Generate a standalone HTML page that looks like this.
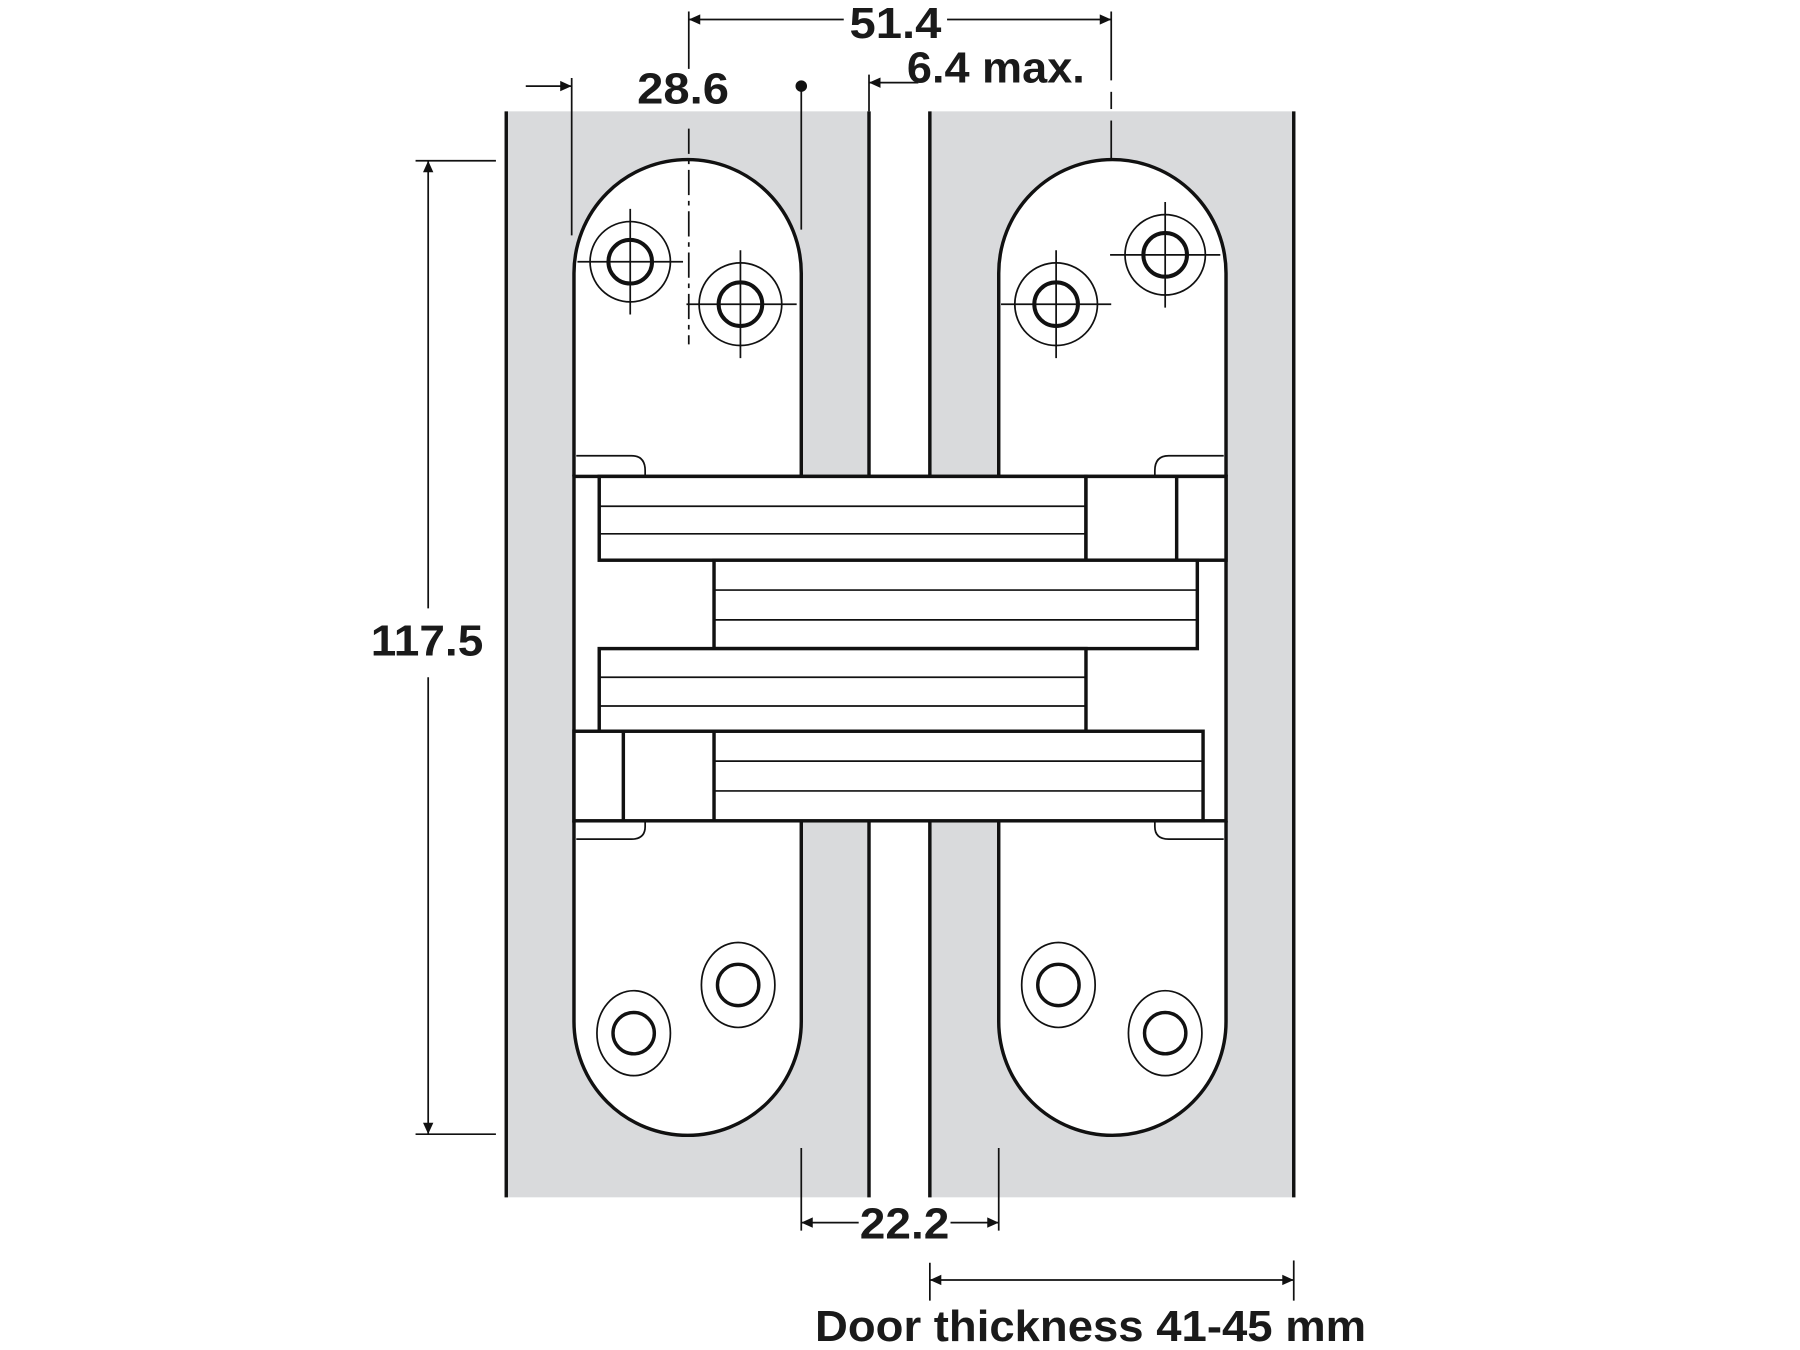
<!DOCTYPE html>
<html><head><meta charset="utf-8"><style>
html,body{margin:0;padding:0;background:#fff;width:1800px;height:1350px;overflow:hidden}
svg{display:block}
text{font-family:"Liberation Sans",Arial,sans-serif;font-weight:bold;fill:#1a1a1a}
</style></head><body>
<svg width="1800" height="1350" viewBox="0 0 1568 1176" xmlns="http://www.w3.org/2000/svg">
<defs>
<marker id="ar" viewBox="0 0 10 10" refX="10" refY="5" markerWidth="22" markerHeight="10" markerUnits="userSpaceOnUse" orient="auto-start-reverse"><path d="M0,0.5 L10,5 L0,9.5 z" fill="#111"/></marker>
</defs>
<rect x="440" y="97" width="317" height="946" fill="#d9dadc"/>
<rect x="810" y="97" width="317" height="946" fill="#d9dadc"/>
<g stroke="#111" stroke-width="3" fill="none">
<line x1="441" y1="97" x2="441" y2="1043"/>
<line x1="757" y1="97" x2="757" y2="1043"/>
<line x1="810" y1="97" x2="810" y2="1043"/>
<line x1="1127" y1="97" x2="1127" y2="1043"/>
</g>
<g stroke="#111" stroke-width="3" fill="#fff">
<path d="M500,415 L500,238 A99,99 0 0 1 698,238 L698,415"/>
<path d="M870,415 L870,238 A99,99 0 0 1 1068,238 L1068,415"/>
<path d="M500,715 L500,890 A99,99 0 0 0 698,890 L698,715"/>
<path d="M870,715 L870,890 A99,99 0 0 0 1068,890 L1068,715"/>
</g>
<g stroke="#111" stroke-width="1.5" fill="none">
<path d="M502,397 L550,397 Q562,397 562,410 L562,415"/>
<path d="M1066,397 L1018,397 Q1006,397 1006,410 L1006,415"/>
<path d="M502,731 L550,731 Q562,731 562,720 L562,715"/>
<path d="M1066,731 L1018,731 Q1006,731 1006,720 L1006,715"/>
</g>
<g stroke="#111" fill="#fff">
<rect x="500" y="415" width="568" height="300" stroke-width="3"/>
<rect x="522" y="415" width="424" height="73" stroke-width="3"/>
<rect x="946" y="415" width="122" height="73" stroke-width="3"/>
<line x1="1025" y1="415" x2="1025" y2="488" stroke-width="3"/>
<rect x="622" y="488" width="421" height="77" stroke-width="3"/>
<rect x="522" y="565" width="424" height="72" stroke-width="3"/>
<rect x="500" y="637" width="548" height="78" stroke-width="3"/>
<line x1="543" y1="637" x2="543" y2="715" stroke-width="3"/>
<line x1="622" y1="637" x2="622" y2="715" stroke-width="3"/>
</g>
<g stroke="#111" stroke-width="1.5">
<line x1="522" y1="441" x2="946" y2="441"/><line x1="522" y1="465" x2="946" y2="465"/>
<line x1="622" y1="514" x2="1043" y2="514"/><line x1="622" y1="540" x2="1043" y2="540"/>
<line x1="522" y1="590" x2="946" y2="590"/><line x1="522" y1="615" x2="946" y2="615"/>
<line x1="622" y1="663" x2="1048" y2="663"/><line x1="622" y1="689" x2="1048" y2="689"/>
</g>
<g stroke="#111" fill="none">
<g stroke-width="3.5"><circle cx="549" cy="228" r="19"/><circle cx="645" cy="265" r="19"/><circle cx="920" cy="265" r="19"/><circle cx="1015" cy="222" r="19"/></g>
<g stroke-width="1.5"><circle cx="549" cy="228" r="35"/><circle cx="645" cy="265" r="36"/><circle cx="920" cy="265" r="36"/><circle cx="1015" cy="222" r="35"/>
<path d="M503,228 h92 M549,182 v92 M598,265 h96 M645,218 v94 M872,265 h96 M920,218 v94 M967,222 h96 M1015,176 v92"/>
</g>
<g stroke-width="3"><circle cx="552" cy="900" r="18"/><circle cx="643" cy="858" r="18"/><circle cx="922" cy="858" r="18"/><circle cx="1015" cy="900" r="18"/></g>
<g stroke-width="1.5"><ellipse cx="552" cy="900" rx="32" ry="37"/><ellipse cx="643" cy="858" rx="32" ry="37"/><ellipse cx="922" cy="858" rx="32" ry="37"/><ellipse cx="1015" cy="900" rx="32" ry="37"/></g>
</g>
<g stroke="#111" stroke-width="1.5" fill="none">
<line x1="600" y1="10" x2="600" y2="60"/>
<line x1="600" y1="112" x2="600" y2="300" stroke-dasharray="22,5,4,5"/>
<line x1="968" y1="10" x2="968" y2="70"/>
<line x1="968" y1="80" x2="968" y2="95" />
<line x1="968" y1="105" x2="968" y2="138"/>
<line x1="600" y1="17" x2="735" y2="17" marker-start="url(#ar)"/>
<line x1="825" y1="17" x2="968" y2="17" marker-end="url(#ar)"/>
<line x1="498" y1="68" x2="498" y2="205"/>
<line x1="458" y1="75" x2="498" y2="75" marker-end="url(#ar)"/>
<line x1="698" y1="75" x2="698" y2="200"/>
<line x1="757" y1="65" x2="757" y2="97"/>
<line x1="800" y1="72" x2="757" y2="72" marker-end="url(#ar)"/>
<line x1="362" y1="140" x2="432" y2="140"/>
<line x1="362" y1="988" x2="432" y2="988"/>
<line x1="373" y1="140" x2="373" y2="530" marker-start="url(#ar)"/>
<line x1="373" y1="590" x2="373" y2="988" marker-end="url(#ar)"/>
<line x1="698" y1="1000" x2="698" y2="1072"/>
<line x1="870" y1="1000" x2="870" y2="1072"/>
<line x1="698" y1="1065" x2="748" y2="1065" marker-start="url(#ar)"/>
<line x1="828" y1="1065" x2="870" y2="1065" marker-end="url(#ar)"/>
<line x1="810" y1="1100" x2="810" y2="1133"/>
<line x1="1127" y1="1098" x2="1127" y2="1133"/>
<line x1="810" y1="1115" x2="1127" y2="1115" marker-start="url(#ar)" marker-end="url(#ar)"/>
</g>
<circle cx="698" cy="75" r="5" fill="#111"/>
<g font-size="38">
<text x="780" y="33" text-anchor="middle" textLength="80" lengthAdjust="spacingAndGlyphs">51.4</text>
<text x="595" y="90" text-anchor="middle" textLength="80" lengthAdjust="spacingAndGlyphs">28.6</text>
<text x="790" y="72" textLength="155" lengthAdjust="spacingAndGlyphs">6.4 max.</text>
<text x="372" y="571" text-anchor="middle" textLength="98" lengthAdjust="spacingAndGlyphs">117.5</text>
<text x="788" y="1079" text-anchor="middle" textLength="78" lengthAdjust="spacingAndGlyphs">22.2</text>
<text x="950" y="1168" text-anchor="middle" textLength="480" lengthAdjust="spacingAndGlyphs">Door thickness 41-45 mm</text>
</g>
</svg>
</body></html>
